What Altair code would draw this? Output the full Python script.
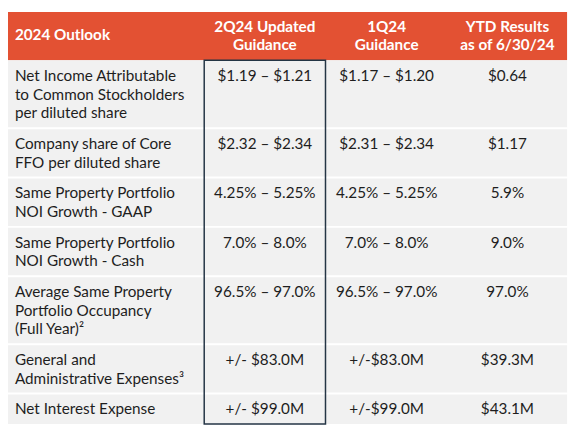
import altair as alt
import pandas as pd

# ---- table content ----
headers = ["2024 Outlook", "2Q24 Updated\nGuidance", "1Q24\nGuidance", "YTD Results\nas of 6/30/24"]
outlook = [
    "Net Income Attributable\nto Common Stockholders\nper diluted share",
    "Company share of Core\nFFO per diluted share",
    "Same Property Portfolio\nNOI Growth - GAAP",
    "Same Property Portfolio\nNOI Growth - Cash",
    "Average Same Property\nPortfolio Occupancy\n(Full Year)²",
    "General and\nAdministrative Expenses³",
    "Net Interest Expense",
]
guidance_2q24 = ["$1.19 – $1.21", "$2.32 – $2.34", "4.25% – 5.25%", "7.0% – 8.0%",
                 "96.5% – 97.0%", "+/- $83.0M", "+/- $99.0M"]
guidance_1q24 = ["$1.17 – $1.20", "$2.31 – $2.34", "4.25% – 5.25%", "7.0% – 8.0%",
                 "96.5% – 97.0%", "+/-$83.0M", "+/-$99.0M"]
ytd_results = ["$0.64", "$1.17", "5.9%", "9.0%", "97.0%", "$39.3M", "$43.1M"]

# ---- layout / style ----
W, H = 572, 420
COL_EDGES = [0, 199, 322, 446, 567]
HEADER_TOP, HEADER_BOTTOM = 1, 50
LINE_H, ROW_PAD, TEXT_TOP = 19, 12, 9
LABEL_X = 7
ORANGE = "#E35133"
GRAY = "#F1F1F1"
BOX = "#243545"
TXT = "#1E1E1E"
FONT = "Lato"
BODY_SIZE = 15.5
HEAD_SIZE = 15.5

# row geometry derived from number of text lines
tops, bottoms = [], []
y = HEADER_BOTTOM
for lab in outlook:
    n = lab.count("\n") + 1
    tops.append(y)
    y += ROW_PAD + LINE_H * n
    bottoms.append(y)

rows = pd.DataFrame({"y0": tops, "y1": bottoms, "x0": COL_EDGES[0], "x1": COL_EDGES[-1]})
seps = pd.DataFrame({"y": tops[1:], "x0": COL_EDGES[0], "x1": COL_EDGES[-1]})
header_bg = pd.DataFrame({"y0": [HEADER_TOP], "y1": [HEADER_BOTTOM],
                          "x0": [COL_EDGES[0]], "x1": [COL_EDGES[-1]]})
box = pd.DataFrame({"x0": [COL_EDGES[1]], "x1": [COL_EDGES[2]],
                    "y0": [HEADER_BOTTOM], "y1": [bottoms[-1]]})

centers = [(COL_EDGES[i] + COL_EDGES[i + 1]) / 2 for i in range(4)]
hmid = (HEADER_TOP + HEADER_BOTTOM) / 2
head_df = pd.DataFrame({
    "x": [COL_EDGES[0] + LABEL_X] + centers[1:],
    "y": [hmid - (h.count("\n") * LINE_H / 2 if "\n" in h else 1.5) for h in headers],
    "t": headers,
    "a": ["left", "center", "center", "center"],
})
lab_df = pd.DataFrame({"x": COL_EDGES[0] + LABEL_X, "y": [t + TEXT_TOP for t in tops], "t": outlook})
val_rows = []
for ci, col in enumerate([guidance_2q24, guidance_1q24, ytd_results]):
    for ri, v in enumerate(col):
        val_rows.append({"x": centers[ci + 1], "y": tops[ri] + TEXT_TOP, "t": v})
val_df = pd.DataFrame(val_rows)

xs = alt.Scale(domain=[0, W], nice=False, zero=False)
ys = alt.Scale(domain=[0, H], nice=False, zero=False, reverse=True)


def rect_layer(df, **kw):
    return alt.Chart(df).mark_rect(**kw).encode(
        x=alt.X("x0:Q", scale=xs, axis=None), x2="x1:Q",
        y=alt.Y("y0:Q", scale=ys, axis=None), y2="y1:Q")


def text_layer(df, align, baseline, size, weight, color):
    return alt.Chart(df).mark_text(
        align=align, baseline=baseline, lineBreak="\n", lineHeight=LINE_H,
        font=FONT, fontSize=size, fontWeight=weight, color=color).encode(
        x=alt.X("x:Q", scale=xs, axis=None), y=alt.Y("y:Q", scale=ys, axis=None), text="t:N")


header_layer = rect_layer(header_bg, color=ORANGE)
rows_layer = rect_layer(rows, color=GRAY)
sep_layer = alt.Chart(seps).mark_rule(color="white", strokeWidth=2).encode(
    x=alt.X("x0:Q", scale=xs, axis=None), x2="x1:Q",
    y=alt.Y("y:Q", scale=ys, axis=None))
box_layer = rect_layer(box, fill=None, filled=False, stroke=BOX, strokeWidth=1.5)

head_left = text_layer(head_df[head_df.a == "left"], "left", "middle", HEAD_SIZE, "bold", "white")
head_center = text_layer(head_df[head_df.a == "center"], "center", "middle", HEAD_SIZE, "bold", "white")
lab_layer = text_layer(lab_df, "left", "top", BODY_SIZE, "normal", TXT)
val_layer = text_layer(val_df, "center", "top", BODY_SIZE, "normal", TXT)

chart = alt.layer(header_layer, rows_layer, sep_layer, box_layer,
                  head_left, head_center, lab_layer, val_layer).properties(
    width=W, height=H, padding=0, autosize=alt.AutoSizeParams(type="none"),
    background="white",
).configure_view(stroke=None)

chart.save("out.html", embed_options={"renderer": "svg", "actions": False})
